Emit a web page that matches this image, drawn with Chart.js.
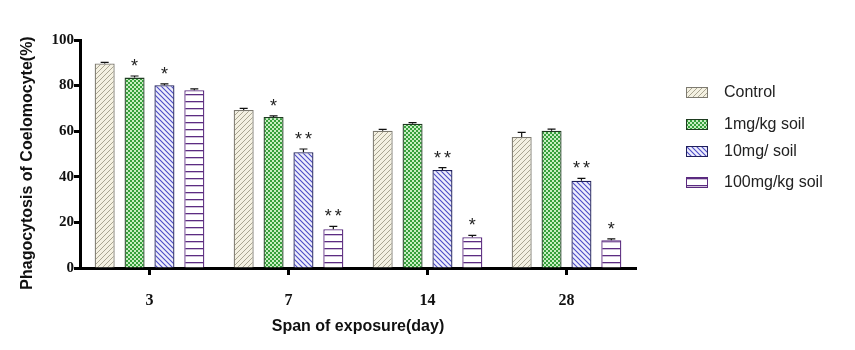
<!DOCTYPE html>
<html>
<head>
<meta charset="utf-8">
<script src="https://cdn.jsdelivr.net/npm/chart.js@4.4.1/dist/chart.umd.min.js"></script>
<style>
  body { margin: 0; background: #fff; }
  #wrap { width: 855px; height: 350px; }
</style>
</head>
<body>
<div id="wrap"><canvas id="phago" width="855" height="350"></canvas></div>
<script>
// days of exposure
const days = ['3', '7', '14', '28'];

// mean phagocytosis (%) and SEM per group
const control = [89.7, 69.3, 60.2, 57.5];
const controlErr = [0.5, 0.7, 0.6, 2.0];
const dose1 = [83.5, 66.2, 63.3, 60.2];
const dose1Err = [0.7, 0.5, 0.5, 0.7];
const dose10 = [80.2, 50.8, 43.0, 38.3];
const dose10Err = [0.6, 1.4, 1.0, 1.0];
const dose100 = [78.0, 17.0, 13.5, 12.2];
const dose100Err = [0.6, 1.3, 0.8, 0.6];

// significance marks
const controlSig = ['', '', '', ''];
const dose1Sig = ['*', '*', '', ''];
const dose10Sig = ['*', '**', '**', '**'];
const dose100Sig = ['', '**', '*', '*'];

const yTicks = [0, 20, 40, 60, 80, 100];

function makePattern(size, paint) {
    const c = document.createElement('canvas');
    c.width = size; c.height = size;
    const g = c.getContext('2d');
    paint(g, size);
    return document.getElementById('phago').getContext('2d').createPattern(c, 'repeat');
}

const ctrlFill = makePattern(5, function (g, s) {
    g.fillStyle = '#f4f1e2'; g.fillRect(0, 0, s, s);
    g.strokeStyle = '#aaa592'; g.lineWidth = 1;
    g.beginPath();
    g.moveTo(0, s); g.lineTo(s, 0);
    g.moveTo(-1, 1); g.lineTo(1, -1);
    g.moveTo(s - 1, s + 1); g.lineTo(s + 1, s - 1);
    g.stroke();
});
const d1Fill = makePattern(4, function (g, s) {
    g.fillStyle = '#36a03c'; g.fillRect(0, 0, s, s);
    g.fillStyle = '#c8eec2';
    g.fillRect(0, 0, 2, 2); g.fillRect(2, 2, 2, 2);
});
const d10Fill = makePattern(5, function (g, s) {
    g.fillStyle = '#eeeefc'; g.fillRect(0, 0, s, s);
    g.strokeStyle = '#4b4bc6'; g.lineWidth = 1.1;
    g.beginPath();
    g.moveTo(0, 0); g.lineTo(s, s);
    g.moveTo(s - 1, -1); g.lineTo(s + 1, 1);
    g.moveTo(-1, s - 1); g.lineTo(1, s + 1);
    g.stroke();
});
const d100Fill = makePattern(7, function (g, s) {
    g.fillStyle = '#ffffff'; g.fillRect(0, 0, s, s);
    g.fillStyle = '#5c2c82'; g.fillRect(0, 3, s, 1.3);
});

const groups = [
    { label: 'Control', data: control, err: controlErr, sig: controlSig, fill: ctrlFill, edge: '#7d7a70' },
    { label: '1mg/kg soil', data: dose1, err: dose1Err, sig: dose1Sig, fill: d1Fill, edge: '#1e3b20' },
    { label: '10mg/ soil', data: dose10, err: dose10Err, sig: dose10Sig, fill: d10Fill, edge: '#1f1f5a' },
    { label: '100mg/kg soil', data: dose100, err: dose100Err, sig: dose100Sig, fill: d100Fill, edge: '#5a2a7e' }
];

const extras = {
    id: 'extras',
    afterDatasetsDraw(chart) {
        const ctx = chart.ctx;
        const y = chart.scales.y;
        ctx.save();
        chart.data.datasets.forEach(function (ds, i) {
            const meta = chart.getDatasetMeta(i);
            meta.data.forEach(function (bar, j) {
                const top = y.getPixelForValue(ds.data[j] + ds.errors[j]);
                ctx.strokeStyle = '#111';
                ctx.lineWidth = 1.2;
                ctx.beginPath();
                ctx.moveTo(bar.x, bar.y);
                ctx.lineTo(bar.x, top);
                ctx.moveTo(bar.x - 4, top);
                ctx.lineTo(bar.x + 4, top);
                ctx.stroke();
                const s = ds.marks[j];
                if (s) {
                    ctx.fillStyle = '#222';
                    ctx.font = '18px "Liberation Sans", Arial, sans-serif';
                    ctx.textAlign = 'center';
                    ctx.textBaseline = 'alphabetic';
                    const n = s.length;
                    for (let k = 0; k < n; k++) {
                        ctx.fillText('*', bar.x + (k - (n - 1) / 2) * 10, top - 15 + 11);
                    }
                }
            });
        });
        ctx.restore();
    },
    afterDraw(chart) {
        const ctx = chart.ctx;
        ctx.save();
        // y axis title
        ctx.translate(28, 163);
        ctx.rotate(-Math.PI / 2);
        ctx.fillStyle = '#111';
        ctx.font = 'bold 16px "Liberation Sans", Arial, sans-serif';
        ctx.textAlign = 'center';
        ctx.textBaseline = 'middle';
        ctx.fillText('Phagocytosis of Coelomocyte(%)', 0, 0);
        ctx.restore();

        // legend
        const rows = [92, 124, 151, 182];
        ctx.save();
        chart.data.datasets.forEach(function (ds, i) {
            ctx.fillStyle = ds.backgroundColor;
            ctx.fillRect(686, rows[i] - 5, 21, 10);
            ctx.strokeStyle = ds.borderColor;
            ctx.lineWidth = 1;
            ctx.strokeRect(686.5, rows[i] - 4.5, 21, 10);
            ctx.fillStyle = '#222';
            ctx.font = '16px "Liberation Sans", Arial, sans-serif';
            ctx.textAlign = 'left';
            ctx.textBaseline = 'middle';
            ctx.fillText(ds.label, 724, rows[i] + 1);
        });
        ctx.restore();
    }
};

new Chart(document.getElementById('phago'), {
    type: 'bar',
    data: {
        labels: days,
        datasets: groups.map(function (g) {
            return {
                label: g.label,
                data: g.data,
                errors: g.err,
                marks: g.sig,
                backgroundColor: g.fill,
                borderColor: g.edge,
                borderWidth: 1.3,
                categoryPercentage: 0.86,
                barPercentage: 0.67
            };
        })
    },
    options: {
        responsive: false,
        animation: false,
        layout: { padding: { top: 40, right: 219, bottom: 14, left: 0 } },
        plugins: {
            legend: { display: false },
            tooltip: { enabled: false }
        },
        scales: {
            x: {
                grid: { display: true, drawOnChartArea: false, offset: false, tickLength: 7, tickWidth: 3, tickColor: '#000' },
                border: { color: '#000', width: 3 },
                ticks: {
                    color: '#111',
                    padding: 16,
                    font: { family: '"Liberation Serif", "Times New Roman", serif', size: 16, weight: 'bold' }
                },
                title: {
                    display: true,
                    text: 'Span of exposure(day)',
                    color: '#111',
                    padding: { top: 6, bottom: 0 },
                    font: { family: '"Liberation Sans", Arial, sans-serif', size: 16, weight: 'bold' }
                },
                afterFit(scale) { scale.height = 68; }
            },
            y: {
                min: 0,
                max: 100,
                afterBuildTicks(scale) { scale.ticks = yTicks.map(v => ({ value: v })); },
                grid: { display: true, drawOnChartArea: false, tickLength: 6, tickWidth: 3, tickColor: '#000' },
                border: { color: '#000', width: 3 },
                ticks: {
                    color: '#111',
                    padding: 0,
                    font: { family: '"Liberation Serif", "Times New Roman", serif', size: 15, weight: 'bold' }
                },
                afterFit(scale) { scale.width = 80; }
            }
        }
    },
    plugins: [extras]
});
</script>
</body>
</html>
